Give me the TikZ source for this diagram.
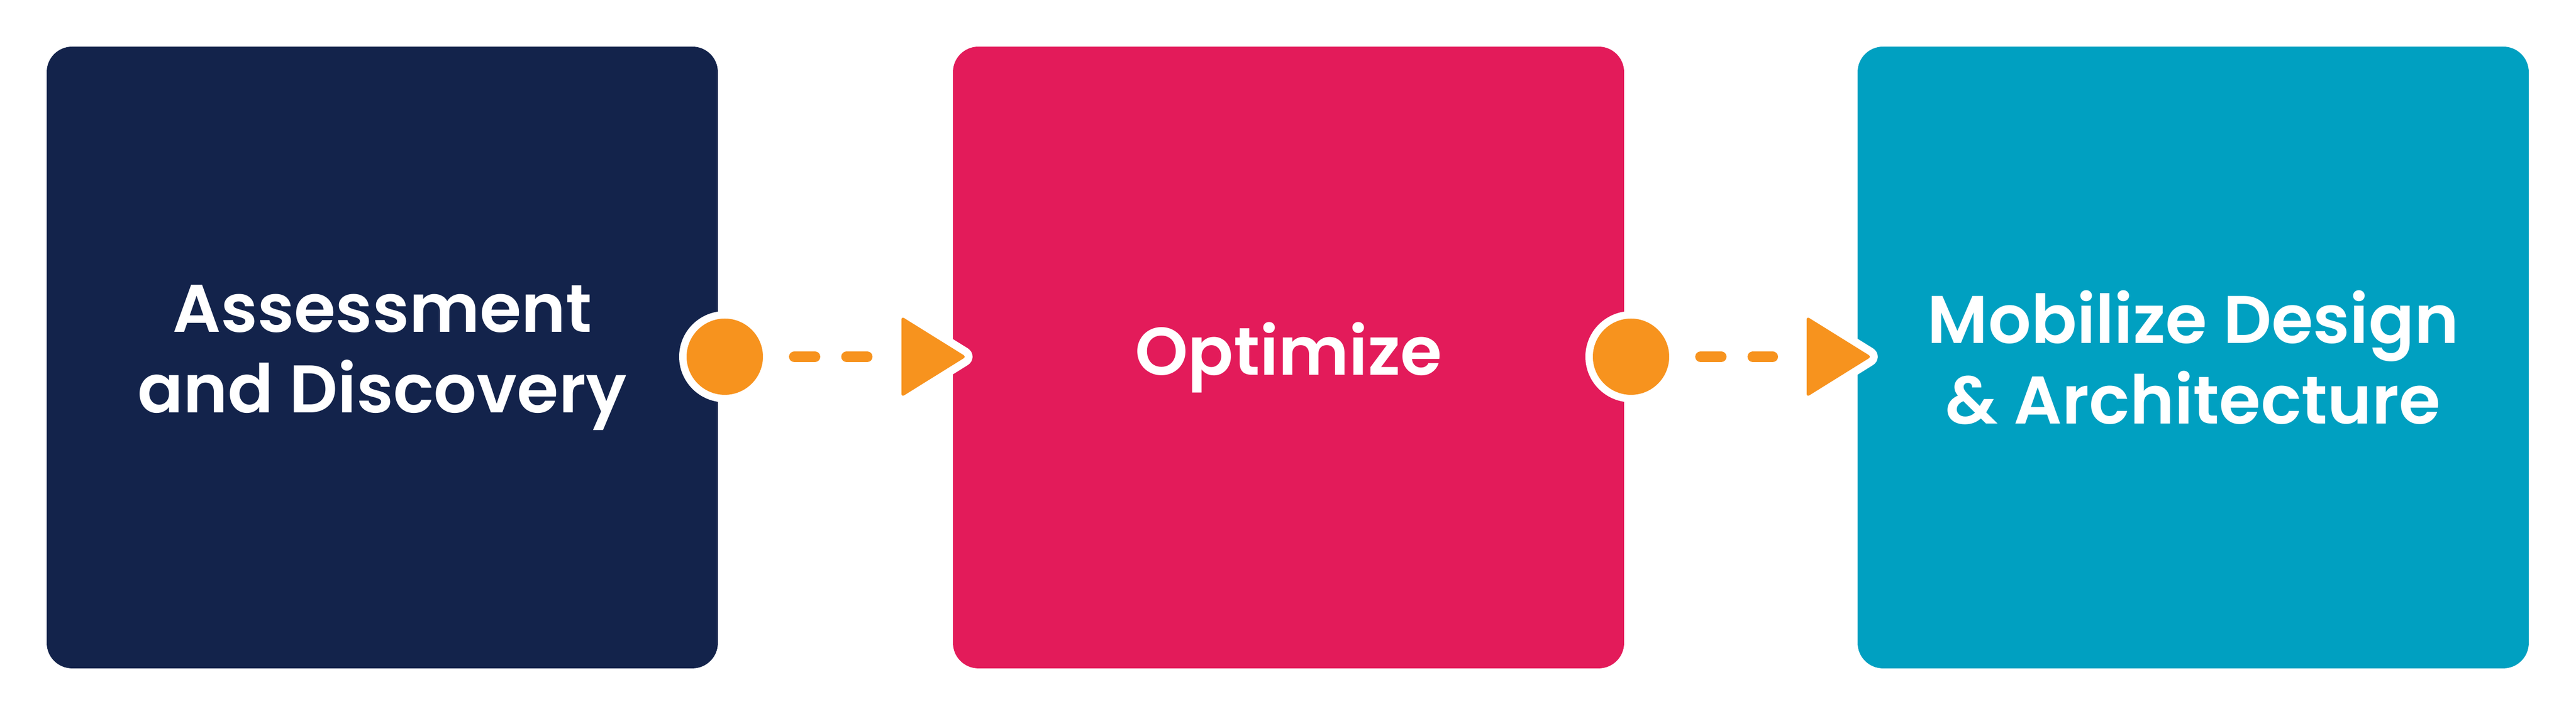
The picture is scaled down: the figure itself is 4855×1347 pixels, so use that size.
\documentclass[tikz,border=0pt]{standalone}
\usepackage{fontspec}
\setmainfont{Poppins}[BoldFont={Poppins SemiBold}]
\definecolor{navybox}{HTML}{13234B}
\definecolor{pinkbox}{HTML}{E31B5A}
\definecolor{cyanbox}{HTML}{00A0C1}
\definecolor{dotorange}{HTML}{F7931E}
\begin{document}
\begin{tikzpicture}[x=0.1pt,y=-0.1pt,
  box/.style={rounded corners=4.8pt, minimum width=126.5pt, minimum height=117.3pt,
    inner sep=0pt, outer sep=0pt, text=white, align=center,
    font=\bfseries\fontsize{12.7pt}{15.2pt}\selectfont},
  dot/.style={circle, fill=dotorange, draw=white, line width=1.4pt,
    minimum size=15.8pt, inner sep=0pt, outer sep=0pt},
  dashline/.style={draw=dotorange, line width=2pt, line cap=round,
    dash pattern=on 3.9pt off 5.95pt},
  tiptri/.style={fill=dotorange, rounded corners=0.6pt,
    preaction={draw=white, line width=3pt, line join=round}}]
\useasboundingbox (0,0) rectangle (4855,1347);

\node[box, fill=navybox] (b1) at (720.5,674.5) {Assessment\\and Discovery};
\node[box, fill=pinkbox] (b2) at (2428.5,674.5) {Optimize};
\node[box, fill=cyanbox] (b3) at (4133.5,674.5) {Mobilize Design\\\& Architecture};

% connector 1
\coordinate (t1) at (1699,673);
\path[tiptri] (t1) -- ++(0,-76) -- ++(122,76) -- ++(-122,76) -- cycle;
\node[dot] (c1) at (1366,673) {};
\draw[dashline, shorten <=5.2pt, shorten >=6.4pt] (c1.east) -- (t1);

% connector 2
\coordinate (t2) at (3405,673);
\path[tiptri] (t2) -- ++(0,-76) -- ++(122,76) -- ++(-122,76) -- cycle;
\node[dot] (c2) at (3074,673) {};
\draw[dashline, shorten <=5.2pt, shorten >=6.4pt] (c2.east) -- (t2);
\end{tikzpicture}
\end{document}
